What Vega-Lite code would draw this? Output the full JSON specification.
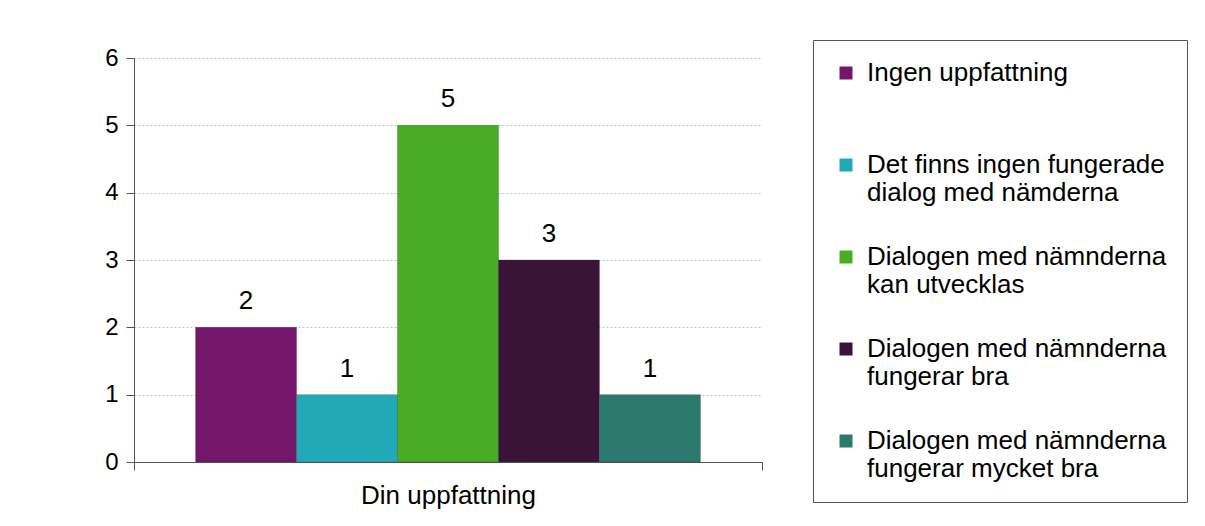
{
  "$schema": "https://vega.github.io/schema/vega-lite/v6.json",
  "autosize": "none",
  "width": 628,
  "height": 404,
  "padding": {"left": 134, "top": 58, "right": 443, "bottom": 64},
  "background": "white",
  "config": {
    "font": "Liberation Sans",
    "view": {"stroke": null}
  },
  "data": {
    "values": [
      {"kategori": "Din uppfattning", "svar": "Ingen uppfattning", "antal": 2},
      {"kategori": "Din uppfattning", "svar": "Det finns ingen fungerade dialog med nämderna", "antal": 1},
      {"kategori": "Din uppfattning", "svar": "Dialogen med nämnderna kan utvecklas", "antal": 5},
      {"kategori": "Din uppfattning", "svar": "Dialogen med nämnderna fungerar bra", "antal": 3},
      {"kategori": "Din uppfattning", "svar": "Dialogen med nämnderna fungerar mycket bra", "antal": 1}
    ]
  },
  "encoding": {
    "x": {
      "field": "kategori",
      "type": "nominal",
      "scale": {"paddingInner": 0, "paddingOuter": 0},
      "axis": {
        "title": null,
        "labelAngle": 0,
        "labelFontSize": 26,
        "labelColor": "#000000",
        "labelPadding": 12,
        "tickBand": "extent",
        "tickSize": 8,
        "tickColor": "#555555",
        "domainColor": "#555555",
        "labelFont": "Liberation Sans"
      }
    },
    "xOffset": {
      "field": "svar",
      "type": "nominal",
      "sort": null,
      "scale": {"paddingInner": 0, "paddingOuter": 0.61}
    },
    "y": {
      "field": "antal",
      "type": "quantitative",
      "scale": {"domain": [0, 6]},
      "axis": {
        "title": null,
        "values": [0, 1, 2, 3, 4, 5, 6],
        "labelFontSize": 24,
        "labelColor": "#000000",
        "labelPadding": 8,
        "tickSize": 8,
        "tickColor": "#555555",
        "domainColor": "#555555",
        "gridColor": "#b8c0cc",
        "gridDash": [2, 2],
        "labelFont": "Liberation Sans"
      }
    }
  },
  "layer": [
    {
      "mark": {"type": "bar", "stroke": "#333333", "strokeWidth": 0.3},
      "encoding": {
        "color": {
          "field": "svar",
          "type": "nominal",
          "sort": null,
          "scale": {
            "domain": [
              "Ingen uppfattning",
              "Det finns ingen fungerade dialog med nämderna",
              "Dialogen med nämnderna kan utvecklas",
              "Dialogen med nämnderna fungerar bra",
              "Dialogen med nämnderna fungerar mycket bra"
            ],
            "range": ["#74176B", "#22A9B8", "#48AC25", "#3A1339", "#2B7A6D"]
          },
          "legend": {
            "title": null,
            "orient": "none",
            "legendX": 679,
            "legendY": -18,
            "strokeColor": "#555555",
            "padding": 20,
            "symbolType": "square",
            "symbolSize": 169,
            "symbolStrokeWidth": 0,
            "labelFontSize": 26,
            "labelColor": "#000000",
            "labelFont": "Liberation Sans",
            "labelLimit": 400,
            "labelOffset": 8,
            "labelLineHeight": 30,
            "rowPadding": 38,
            "labelBaseline": "middle",
            "labelExpr": "indexof(datum.label, ' med ') > 0 ? split(replace(replace(datum.label, 'fungerade ', 'fungerade|'), 'nämnderna ', 'nämnderna|'), '|') : [datum.label, ' ']"
          }
        }
      }
    },
    {
      "mark": {"type": "text", "dy": -26, "fontSize": 26, "color": "#000000", "font": "Liberation Sans"},
      "encoding": {"text": {"field": "antal", "type": "quantitative"}}
    }
  ]
}
